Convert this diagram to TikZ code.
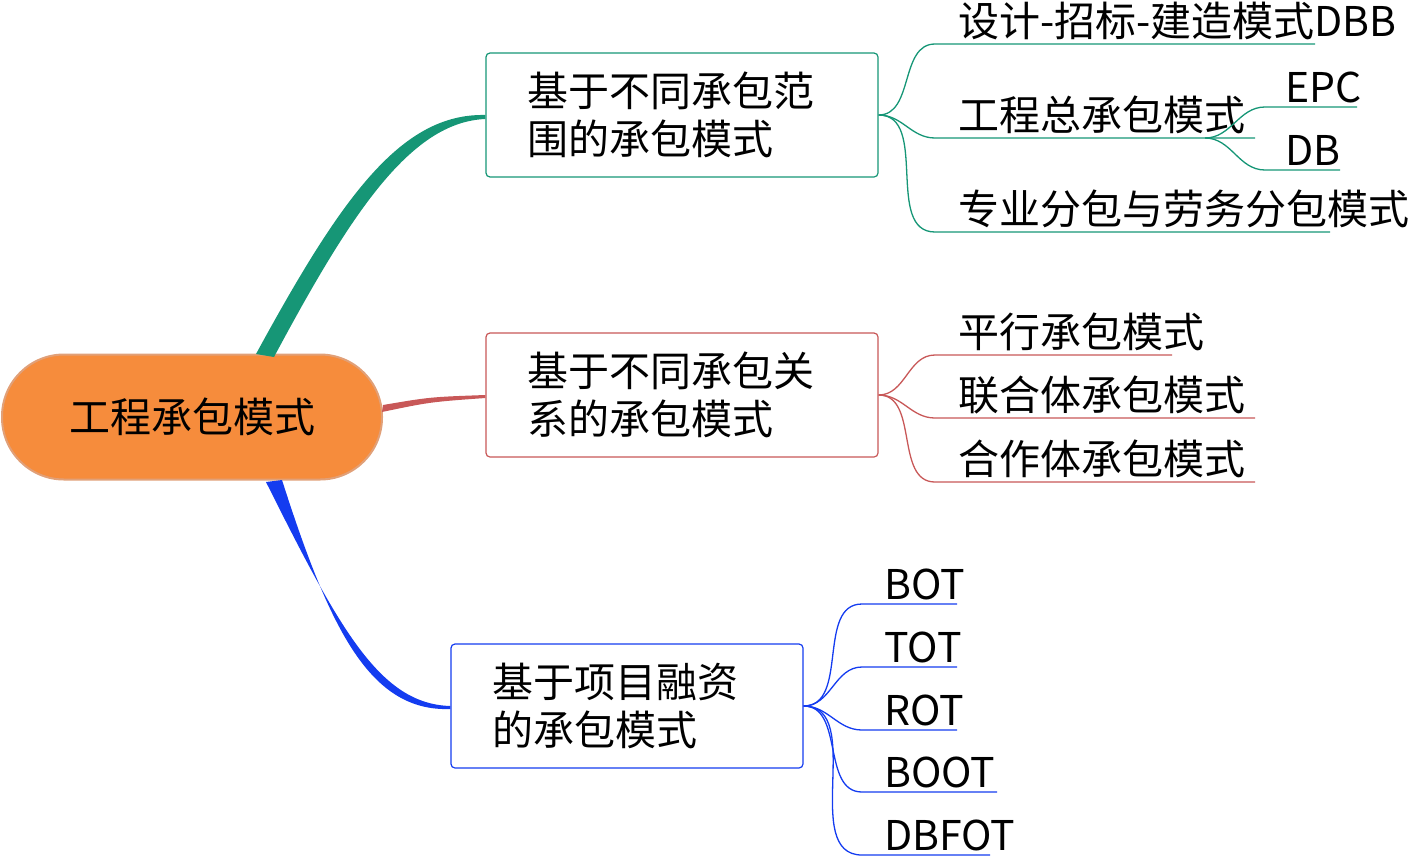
\documentclass[tikz,border=0pt]{standalone}
\usepackage{fontspec}
\setmainfont{Noto Sans CJK SC}
\definecolor{cgreen}{RGB}{22,150,118}
\definecolor{cred}{RGB}{200,88,88}
\definecolor{cblue}{RGB}{20,60,240}
\definecolor{corange}{RGB}{246,140,60}
\definecolor{cborder}{RGB}{225,160,120}
\tikzset{
  box/.style={draw, rounded corners=4pt, line width=1.2pt, minimum width=392, minimum height=124,
    align=left, font=\fontsize{41}{48}\selectfont, text width=310},
  leaf/.style={anchor=south west, inner xsep=0, inner ysep=0, font=\fontsize{41}{44}\selectfont},
  twig/.style={line width=1.3pt},
}
\begin{document}
\begin{tikzpicture}[x=1pt,y=-1pt]
\useasboundingbox (0,0) rectangle (1419,857);
%ROOT
\node[draw=cborder, line width=2pt, fill=corange, rounded corners=62, minimum width=380, minimum height=125,
  font=\fontsize{41}{44}\selectfont] (root) at (192,417) {工程承包模式};
%BOXES
\node[box, draw=cgreen] (b1) at (682,115) {基于不同承包范\\围的承包模式};
\node[box, draw=cred] (b2) at (682,395) {基于不同承包关\\系的承包模式};
\node[box, draw=cblue, minimum width=352, text width=270] (b3) at (627,706) {基于项目融资\\的承包模式};
%MAIN BRANCHES
\fill[cgreen] (256,354) .. controls (340,200) and (400,113) .. (b1.west) -- ++(0,4) .. controls (410,122) and (350,215) .. (274,357) -- cycle;
\fill[cred] (root.east) ++(0,-12) .. controls (430,397) .. (b2.west) -- ++(0,3) .. controls (430,402) .. (382,412) -- cycle;
\fill[cblue] (266,482) .. controls (340,630) and (380,704) .. (b3.west) -- ++(0,3) .. controls (370,712) and (330,630) .. (282,480) -- cycle;
%LEAVES 1
\node[leaf] (l11) at (958,40) {设计-招标-建造模式DBB};
\node[leaf] (l12) at (958,134) {工程总承包模式};
\node[leaf] (l13) at (958,228) {专业分包与劳务分包模式};
\node[leaf] (l121) at (1285,103) {EPC};
\node[leaf] (l122) at (1285,166) {DB};
\coordinate (u11) at (935,44); \coordinate (u12) at (935,138); \coordinate (u13) at (935,232);
\coordinate (u121) at (1265,107); \coordinate (u122) at (1265,170); \coordinate (s12) at (1205,138);
\draw[twig, cgreen] (b1.east) to[out=0,in=180] (u11) -- ++(380,0);
\draw[twig, cgreen] (b1.east) to[out=0,in=180] (u12) -- ++(320,0);
\draw[twig, cgreen] (b1.east) to[out=0,in=180] (u13) -- ++(395,0);
\draw[twig, cgreen] (s12) to[out=0,in=180] (u121) -- ++(92,0);
\draw[twig, cgreen] (s12) to[out=0,in=180] (u122) -- ++(75,0);
%LEAVES 2
\foreach \n/\y/\t/\w in {1/355/平行承包模式/237, 2/418/联合体承包模式/320, 3/482/合作体承包模式/320}{
  \node[leaf] (l2\n) at (958,\y-4) {\t};
  \coordinate (u2\n) at (935,\y);
  \draw[twig, cred] (b2.east) to[out=0,in=180] (u2\n) -- ++(\w,0);
}
%LEAVES 3
\foreach \n/\y/\t/\w in {1/604/BOT/95, 2/667/TOT/95, 3/730/ROT/95, 4/792/BOOT/135, 5/855/DBFOT/128}{
  \node[leaf] (l3\n) at (884,\y-4) {\t};
  \coordinate (u3\n) at (862,\y);
  \draw[twig, cblue] (b3.east) to[out=0,in=180] (u3\n) -- ++(\w,0);
}
\end{tikzpicture}
\end{document}
